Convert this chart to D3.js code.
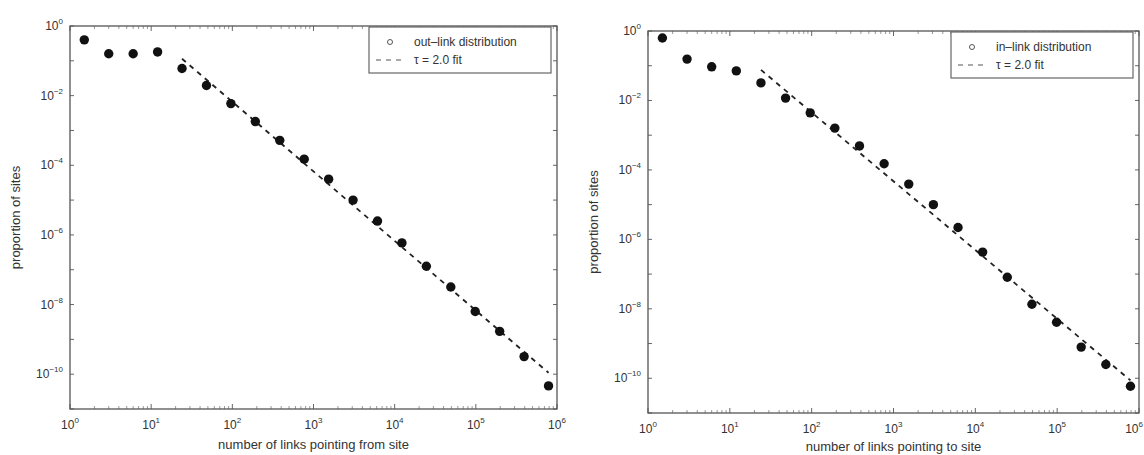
<!DOCTYPE html>
<html>
<head>
<meta charset="utf-8">
<script src="https://cdn.jsdelivr.net/npm/d3@7"></script>
<style>
  body { margin: 0; background: #fff; }
  text { font-family: "Liberation Sans", Arial, sans-serif; fill: #333; }
</style>
</head>
<body>
<svg id="chart" width="1144" height="455"></svg>
<script>
// out-link distribution (left panel)
const outLinkX = [1.5, 3, 6, 12, 24, 48, 96, 192, 384, 768, 1536, 3072, 6144, 12288, 24576, 49152, 98304, 196608, 393216, 786432]
const outLinkY = [0.40, 0.16, 0.16, 0.18, 0.060, 0.0195, 0.0059, 0.0018, 5.2e-4, 1.5e-4, 4.0e-5, 1.0e-5, 2.5e-6, 5.9e-7, 1.26e-7, 3.2e-8, 6.3e-9, 1.7e-9, 3.2e-10, 4.6e-11]
const outFitX = [24, 786432]
const outFitY = [0.115, 1.1e-10]

// in-link distribution (right panel)
const inLinkX = [1.5, 3, 6, 12, 24, 48, 96, 192, 384, 768, 1536, 3072, 6144, 12288, 24576, 49152, 98304, 196608, 393216, 786432]
const inLinkY = [0.63, 0.155, 0.093, 0.071, 0.032, 0.0117, 0.0044, 0.0016, 4.9e-4, 1.5e-4, 3.9e-5, 1.0e-5, 2.2e-6, 4.3e-7, 8.1e-8, 1.35e-8, 4.1e-9, 7.9e-10, 2.5e-10, 5.9e-11]
const inFitX = [24, 786432]
const inFitY = [0.076, 8.7e-11]

const xTickExps = [0, 1, 2, 3, 4, 5, 6]
const yTickExps = [0, -1, -2, -3, -4, -5, -6, -7, -8, -9, -10, -11]
const yLabelExps = [0, -2, -4, -6, -8, -10]

const W = 1144
const svg = d3.select('#chart')

function drawPanel(box, ptsX, ptsY, fitX, fitY, legendText, xLabel, xLabelDy) {
  const x = d3.scaleLog().domain([1, 1e6]).range([box.left, box.right])
  const y = d3.scaleLog().domain([1e-11, 1]).range([box.bottom, box.top])
  const g = svg.append('g')

  // minor x ticks (2..9 each decade)
  let minorX = []
  xTickExps.slice(0, -1).forEach(e => {
    for (let m = 2; m <= 9; m++) minorX.push(m * Math.pow(10, e))
  })

  const tickColor = '#666'
  // x ticks top and bottom
  xTickExps.forEach(e => {
    const px = x(Math.pow(10, e))
    g.append('line').attr('x1', px).attr('x2', px).attr('y1', box.bottom).attr('y2', box.bottom - 5).attr('stroke', tickColor)
    g.append('line').attr('x1', px).attr('x2', px).attr('y1', box.top).attr('y2', box.top + 5).attr('stroke', tickColor)
    // keep the last label inside the page when the panel reaches the edge
    const nearEdge = px + 12 > W
    const t = g.append('text').attr('x', nearEdge ? W - 1 : px).attr('y', box.bottom + 20)
      .attr('text-anchor', nearEdge ? 'end' : 'middle').style('font-size', '12px')
    t.append('tspan').text('10')
    t.append('tspan').attr('dy', -6).style('font-size', '8px').text(e)
  })
  minorX.forEach(v => {
    const px = x(v)
    g.append('line').attr('x1', px).attr('x2', px).attr('y1', box.bottom).attr('y2', box.bottom - 3).attr('stroke', '#999')
    g.append('line').attr('x1', px).attr('x2', px).attr('y1', box.top).attr('y2', box.top + 3).attr('stroke', '#999')
  })

  // y ticks left and right
  yTickExps.forEach(e => {
    const py = y(Math.pow(10, e))
    g.append('line').attr('x1', box.left).attr('x2', box.left + 4).attr('y1', py).attr('y2', py).attr('stroke', tickColor)
    g.append('line').attr('x1', box.right).attr('x2', box.right - 4).attr('y1', py).attr('y2', py).attr('stroke', tickColor)
  })
  yLabelExps.forEach(e => {
    const py = y(Math.pow(10, e))
    const t = g.append('text').attr('x', box.left - 7).attr('y', py + 4).attr('text-anchor', 'end').style('font-size', '12px')
    t.append('tspan').text('10')
    t.append('tspan').attr('dy', -6).style('font-size', '8px').text(e === 0 ? '0' : '\u2212' + (-e))
  })

  // frame
  g.append('rect')
    .attr('x', box.left).attr('y', box.top)
    .attr('width', box.right - box.left).attr('height', box.bottom - box.top)
    .attr('fill', 'none').attr('stroke', '#555').attr('stroke-width', 1.3)

  // fit line
  const line = d3.line().x(d => x(d[0])).y(d => y(d[1]))
  g.append('path')
    .datum(d3.zip(fitX, fitY))
    .attr('d', line)
    .attr('fill', 'none').attr('stroke', '#222').attr('stroke-width', 1.8)
    .attr('stroke-dasharray', '5,5')

  // data points
  g.selectAll('circle.pt')
    .data(d3.zip(ptsX, ptsY))
    .join('circle')
    .attr('class', 'pt')
    .attr('cx', d => x(d[0])).attr('cy', d => y(d[1]))
    .attr('r', 4.7).attr('fill', '#111')

  // legend
  const lw = 182, lh = 46
  const lx = box.right - lw - 6, ly = box.top + 1
  g.append('rect').attr('x', lx).attr('y', ly).attr('width', lw).attr('height', lh)
    .attr('fill', '#fff').attr('stroke', '#666').attr('stroke-width', 1.2)
  g.append('circle').attr('cx', lx + 21).attr('cy', ly + 15).attr('r', 2.5)
    .attr('fill', 'none').attr('stroke', '#555')
  g.append('text').attr('x', lx + 45).attr('y', ly + 19).style('font-size', '12px').text(legendText)
  g.append('line').attr('x1', lx + 7).attr('x2', lx + 32).attr('y1', ly + 33).attr('y2', ly + 33)
    .attr('stroke', '#555').attr('stroke-width', 1.2).attr('stroke-dasharray', '5,5')
  g.append('text').attr('x', lx + 45).attr('y', ly + 37).style('font-size', '12px').text('\u03c4 = 2.0 fit')

  // axis labels
  g.append('text')
    .attr('x', (box.left + box.right) / 2).attr('y', box.bottom + xLabelDy)
    .attr('text-anchor', 'middle').style('font-size', '13px').text(xLabel)
  g.append('text')
    .attr('transform', `translate(${box.left - 50},${(box.top + box.bottom) / 2}) rotate(-90)`)
    .attr('text-anchor', 'middle').style('font-size', '13px').text('proportion of sites')
}

drawPanel({ left: 70, right: 557, top: 26, bottom: 409 }, outLinkX, outLinkY, outFitX, outFitY,
  'out\u2013link distribution', 'number of links pointing from site', 40)
drawPanel({ left: 648, right: 1139, top: 31, bottom: 413 }, inLinkX, inLinkY, inFitX, inFitY,
  'in\u2013link distribution', 'number of links pointing to site', 38)
</script>
</body>
</html>
